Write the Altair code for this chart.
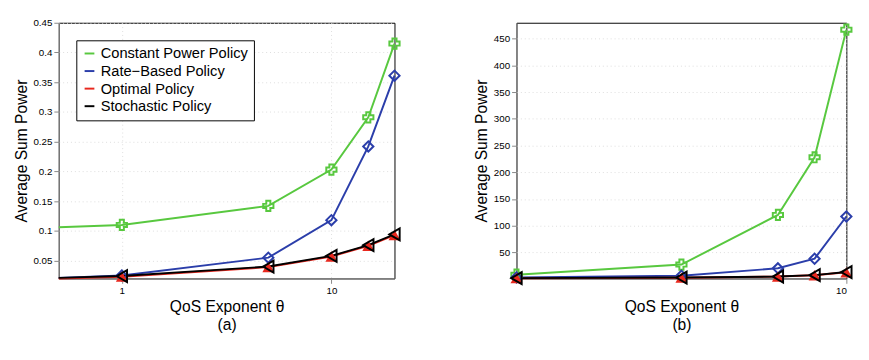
import altair as alt
import pandas as pd

series = ["Constant Power Policy", "Rate\u2212Based Policy", "Optimal Policy", "Stochastic Policy"]

theta_a = [0.5, 1, 5, 10, 15, 20]
const_a = [0.106, 0.110, 0.142, 0.203, 0.291, 0.415]
rate_a = [0.021, 0.025, 0.055, 0.118, 0.242, 0.361]
opt_a = [0.020, 0.023, 0.039, 0.057, 0.075, 0.093]
stoch_a = [0.021, 0.024, 0.040, 0.058, 0.076, 0.094]

theta_b = [2.5, 5, 7.5, 8.75, 10]
const_b = [8, 27, 120, 228, 467]
rate_b = [3, 6, 20, 38, 117]
opt_b = [1.5, 2.5, 4.5, 7, 12.5]
stoch_b = [1.6, 2.6, 4.6, 7.2, 13]

xtick_a = [1, 10]
ytick_a = [0.05, 0.1, 0.15, 0.2, 0.25, 0.3, 0.35, 0.4, 0.45]
xtick_b = [10]
ytick_b = [50, 100, 150, 200, 250, 300, 350, 400, 450]

colors = ["#58c83f", "#2b3eaa", "#e8281e", "#000000"]
marker_styles = [
    dict(shape="cross", filled=False, strokeWidth=2, size=110),
    dict(shape="diamond", filled=False, strokeWidth=2, size=110),
    dict(shape="triangle-up", filled=True, strokeWidth=1, size=150),
    dict(shape="triangle-left", filled=False, strokeWidth=2, size=150),
]

FONT = "Liberation Sans"


def panel(theta, vals, xdom, ydom, xticks, yticks, yfmt, min_mark, tag, width):
    rows = [{"theta": t, "power": y, "series": s}
            for s, v in zip(series, vals) for t, y in zip(theta, v)]
    df = pd.DataFrame(rows)
    X = alt.X("theta:Q", scale=alt.Scale(type="log", domain=xdom, nice=False),
              axis=alt.Axis(values=xticks, title=["QoS Exponent \u03b8", tag], grid=True))
    Y = alt.Y("power:Q", scale=alt.Scale(domain=ydom, nice=False, zero=False),
              axis=alt.Axis(values=yticks, format=yfmt, title="Average Sum Power", grid=True))
    lines = alt.Chart(df).mark_line(strokeWidth=2).encode(
        x=X, y=Y,
        color=alt.Color("series:N", scale=alt.Scale(domain=series, range=colors),
                        legend=alt.Legend(title=None, orient="top-left", labelFontSize=15,
                                          strokeColor="black", fillColor="white",
                                          padding=6, symbolType="stroke",
                                          symbolStrokeWidth=2)),
    )
    layers = [lines]
    for s, c, ms in zip(series, colors, marker_styles):
        layers.append(alt.Chart(df).transform_filter(alt.datum.series == s)
                      .transform_filter(alt.datum.theta >= min_mark)
                      .mark_point(color=c, opacity=1, **ms).encode(x=X, y=Y))
    return alt.layer(*layers).properties(width=width, height=262)


pa = panel(theta_a, [const_a, rate_a, opt_a, stoch_a], [0.5, 20], [0.02, 0.45],
           xtick_a, ytick_a, ".2~f", 1, "(a)", 344)
pb = panel(theta_b, [const_b, rate_b, opt_b, stoch_b], [2.5, 10], [1, 480],
           xtick_b, ytick_b, "d", 0, "(b)", 338)

chart = alt.hconcat(pa, pb, spacing=70).configure_axis(
    labelFont=FONT, labelFontSize=10, titleFont=FONT, titleFontSize=16,
    titleFontWeight="normal", gridDash=[1, 3],
).configure_view(stroke="black")

chart.save("out.html", embed_options={"renderer": "svg", "actions": False})
